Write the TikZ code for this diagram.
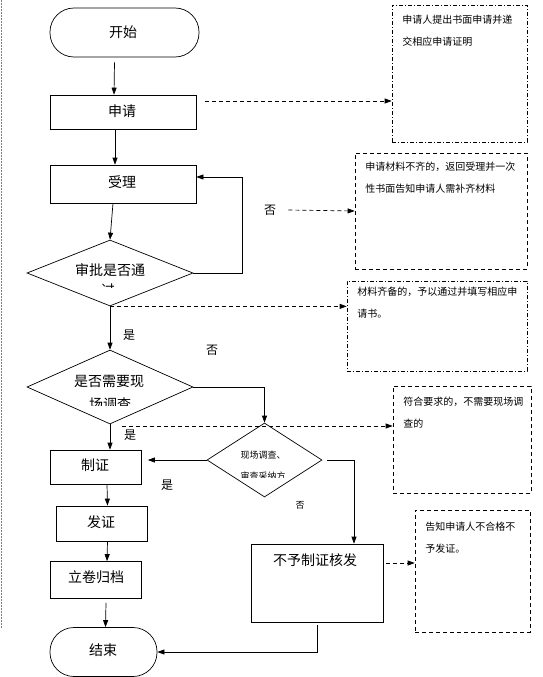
\documentclass[tikz,border=0pt]{standalone}
\usepackage{fontspec}
\newfontfamily\cjk{Noto Sans CJK SC}
\usetikzlibrary{shapes.geometric,arrows.meta}
\newcommand\mainsize{\fontsize{14}{16}\selectfont}
\newcommand\notesize{\fontsize{10}{22}\selectfont}
\newcommand\smallsize{\fontsize{9}{11}\selectfont}

\begin{document}
\begin{tikzpicture}[x=1pt, y=-1pt, line width=0.7pt, font=\cjk,
		box/.style={draw, rectangle, inner sep=0pt},
		term/.style={draw, rectangle, rounded corners=24pt, inner sep=0pt},
		decide/.style={draw, diamond, inner sep=0pt},
		notebox/.style={draw, dash pattern=on 4pt off 3pt, inner sep=0pt},
		dotbox/.style={draw, dash pattern=on 4pt off 2pt on 1pt off 2pt, inner sep=0pt},
		notetext/.style={anchor=north west, inner sep=0pt, align=left, font=\cjk\notesize},
		arrow/.style={-{Triangle[length=7pt,width=5pt]}},
		link/.style={dash pattern=on 4pt off 3pt, -{Triangle[length=7pt,width=5pt]}},
		txt/.style={inner sep=0pt, font=\cjk\mainsize}]
		\useasboundingbox (0,0) rectangle (542,677);
		%page edge
		\draw[densely dotted, line width=0.5pt, gray] (1,0) -- (1,628);
		
		%main column
		\node[term, minimum width=149pt, minimum height=49pt] (start) at (124.5,32.5) {};
		\node[txt] at (123,32) {开始};
		\node[box, minimum width=146pt, minimum height=34pt] (apply) at (123,112) {};
		\node[txt] at (122,111) {申请};
		\node[box, minimum width=146pt, minimum height=38pt] (accept) at (123,184) {};
		\node[txt] at (122,182) {受理};
		\node[decide, minimum width=166pt, minimum height=66pt] (check) at (110,273) {};
		\node[txt] at (110,270) {审批是否通};
		\begin{scope}
			\clip (90,278) rectangle (130,287);
			\node[txt] at (108,290) {过};
		\end{scope}
		\node[decide, minimum width=166pt, minimum height=74pt] (survey) at (110,387) {};
		\node[txt] at (109,381) {是否需要现};
		\begin{scope}
			\clip (80,394) rectangle (140,405);
			\node[txt] at (110,404) {场调查};
		\end{scope}
		\node[decide, minimum width=115pt, minimum height=74pt] (site) at (264.5,460) {};
		\node[inner sep=0pt, font=\cjk\smallsize] at (263,455) {现场调查、};
		\begin{scope}
			\clip (230,470) rectangle (300,477);
			\node[inner sep=0pt, font=\cjk\smallsize] at (263,476.5) {审查采纳方};
		\end{scope}
		\node[box, minimum width=91pt, minimum height=34pt] (make) at (96,467) {};
		\node[txt] at (95,465) {制证};
		\node[box, minimum width=91pt, minimum height=35pt] (issue) at (101.5,523.5) {};
		\node[txt] at (101,522) {发证};
		\node[box, minimum width=91pt, minimum height=37pt] (file) at (96,580) {};
		\node[txt] at (96,577) {立卷归档};
		\node[term, minimum width=107pt, minimum height=49pt] (end) at (103.5,652) {};
		\node[txt] at (103,650) {结束};
		\node[box, minimum width=132pt, minimum height=78pt] (deny) at (317,583) {};
		\node[txt] at (315,560) {不予制证核发};
		
		%notes
		\node[dotbox, minimum width=135pt, minimum height=137pt] (n1) at (459.5,73.5) {};
		\node[notetext] at (402,15) {申请人提出书面申请并递\\交相应申请证明};
		\node[notebox, minimum width=172pt, minimum height=116pt] (n2) at (441,211) {};
		\node[notetext] at (365,162) {申请材料不齐的，返回受理并一次\\性书面告知申请人需补齐材料};
		\node[dotbox, minimum width=180pt, minimum height=90pt] (n3) at (437,326) {};
		\node[notetext] at (357,287) {材料齐备的，予以通过并填写相应申\\请书。};
		\node[notebox, minimum width=138pt, minimum height=107pt] (n4) at (462,439.5) {};
		\node[notetext] at (403,397) {符合要求的，不需要现场调\\查的};
		\node[notebox, minimum width=115pt, minimum height=122pt] (n5) at (472.5,571) {};
		\node[notetext] at (425,522) {告知申请人不合格不\\予发证。};
		
		%labels
		\node[inner sep=0pt, font=\cjk\fontsize{12}{14}\selectfont] (no1) at (270,210) {否};
		\node[inner sep=0pt, font=\cjk\fontsize{12}{14}\selectfont] (yes1) at (129,335) {是};
		\node[inner sep=0pt, font=\cjk\fontsize{12}{14}\selectfont] (no2) at (212,350) {否};
		\node[inner sep=0pt, font=\cjk\fontsize{12}{14}\selectfont] (yes2) at (130,435) {是};
		\node[inner sep=0pt, font=\cjk\fontsize{12}{14}\selectfont] (yes3) at (167,485) {是};
		\node[inner sep=0pt, font=\cjk\smallsize] (no3) at (300,505) {否};
		
		%flow
		\draw[arrow] ([xshift=-10pt,yshift=-5pt]start.south) -- ([xshift=-9pt]apply.north);
		\draw[arrow] ([xshift=-8pt]apply.south) -- ([xshift=-8pt]accept.north);
		\draw[arrow] ([xshift=-10pt]accept.south) -- (check.north);
		\draw[arrow] (check.east) -- ++(49,0) |- ([yshift=7pt]accept.east);
		\draw[arrow] (check.south) -- (survey.north);
		\draw[arrow] (survey.east) -| (site.north);
		\draw[arrow] (survey.south) -- (survey.south |- make.north);
		\draw[arrow, shorten >=6pt] (site.west) -- (site.west -| make.east);
		\draw[arrow] ([xshift=5pt]site.east) -| ([xshift=37pt]deny.north);
		\draw[arrow] ([xshift=11pt]make.south) -- ([xshift=6pt]issue.north);
		\draw[arrow] ([xshift=6pt]issue.south) -- ([xshift=11pt]file.north);
		\draw[arrow] ([xshift=10pt,yshift=-4pt]file.south) -- ([xshift=2pt]end.north);
		\draw[arrow] ([yshift=-3pt]deny.south) |- (end.east);
		
		%note links
		\coordinate (a1) at ([shift={(9pt,11pt)}]apply.east);
		\draw[link] (a1) -- (a1 -| n1.west);
		\draw[link] ([xshift=12pt]no1.east) -- (n2.west);
		\draw[link] (check.south) -- (check.south -| n3.west);
		\coordinate (a4) at (122,426);
		\draw[link] (a4) -- (a4 -| n4.west);
		\coordinate (a5) at ([shift={(3pt,20pt)}]deny.east);
		\draw[link] (a5) -- (a5 -| n5.west);
\end{tikzpicture}
\end{document}
